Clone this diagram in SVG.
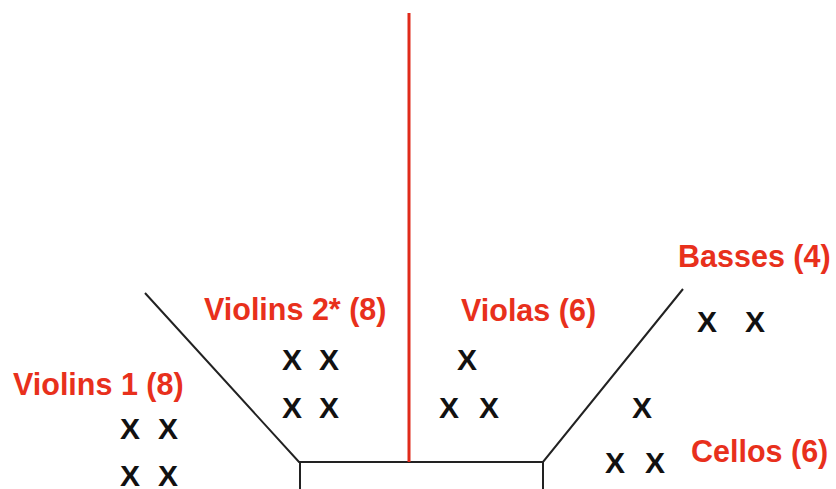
<svg xmlns="http://www.w3.org/2000/svg" width="836" height="489" viewBox="0 0 836 489">
<style>
.lbl{font-family:"Liberation Sans",Arial,sans-serif;font-weight:bold;font-size:30.5px;fill:#e8301c}
.x{font-family:"Liberation Sans",Arial,sans-serif;font-weight:bold;font-size:30px;fill:#111;text-anchor:middle}
.ln{stroke:#222;stroke-width:2;fill:none}
</style>
<rect width="836" height="489" fill="#fff"/>
<g id="connectors">
<polyline class="ln" points="145,293 299,462 543,462 683,289"/>
<line class="ln" x1="300" y1="462" x2="300" y2="489"/>
<line class="ln" x1="543" y1="462" x2="543" y2="489"/>
<line x1="409" y1="13" x2="409" y2="462" stroke="#e02a1a" stroke-width="3"/>
</g>
<g id="violins1">
<text class="lbl" x="13" y="395">Violins 1 (8)</text>
<text class="x" x="130" y="439">X</text><text class="x" x="168" y="439">X</text>
<text class="x" x="130" y="486">X</text><text class="x" x="168" y="486">X</text>
</g>
<g id="violins2">
<text class="lbl" x="204" y="320">Violins 2* (8)</text>
<text class="x" x="292" y="370">X</text><text class="x" x="329" y="370">X</text>
<text class="x" x="292" y="418">X</text><text class="x" x="329" y="418">X</text>
</g>
<g id="violas">
<text class="lbl" x="461" y="321">Violas (6)</text>
<text class="x" x="467" y="370">X</text>
<text class="x" x="449" y="418">X</text><text class="x" x="489" y="418">X</text>
</g>
<g id="basses">
<text class="lbl" x="678" y="267">Basses (4)</text>
<text class="x" x="707" y="332">X</text><text class="x" x="755" y="332">X</text>
</g>
<g id="cellos">
<text class="lbl" x="691" y="462">Cellos (6)</text>
<text class="x" x="642" y="418">X</text>
<text class="x" x="615" y="473">X</text><text class="x" x="655" y="473">X</text>
</g>
</svg>
